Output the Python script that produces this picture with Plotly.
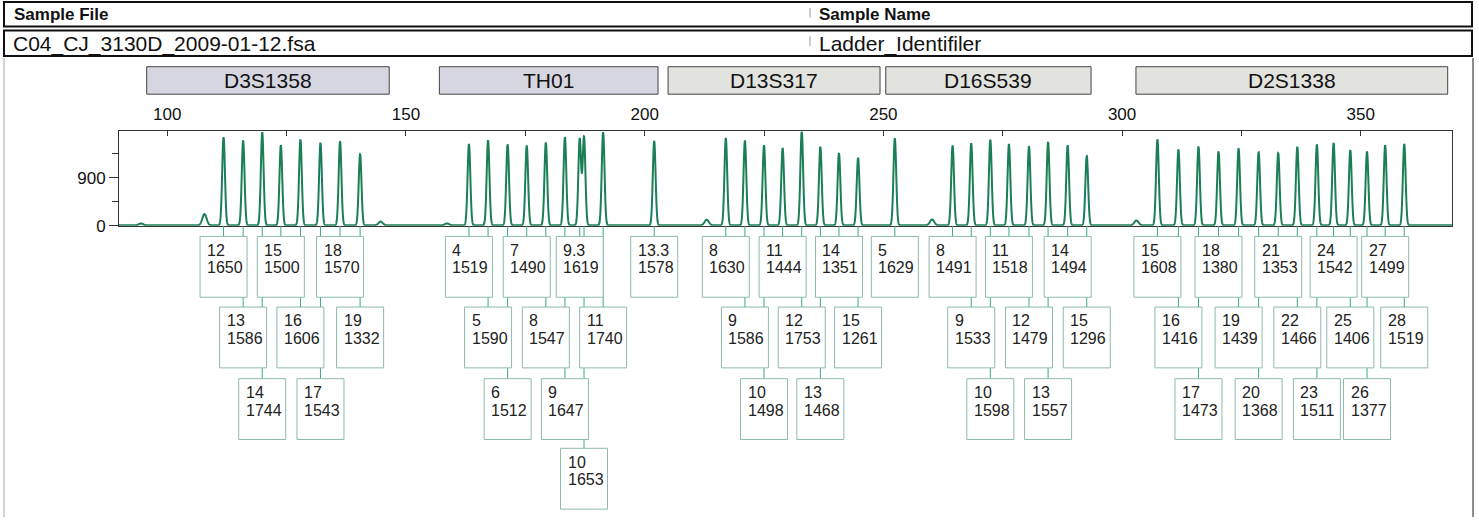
import numpy as np
import plotly.graph_objects as go

# ---------------- data ----------------
loci = ["D3S1358", "TH01", "D13S317", "D16S539", "D2S1338"]
locus_start_bp = [95.7, 157.0, 204.9, 250.5, 302.9]
locus_end_bp = [146.5, 202.8, 249.3, 293.5, 368.2]
locus_fill = ["#d6d6e1", "#d6d6e1", "#e2e2de", "#e2e2de", "#e2e2de"]

d3_alleles = ["12", "13", "14", "15", "16", "17", "18", "19"]
d3_sizes = [111.8, 115.9, 119.9, 123.8, 127.9, 132.1, 136.2, 140.4]
d3_heights = [1650, 1586, 1744, 1500, 1606, 1543, 1570, 1332]

th01_alleles = ["4", "5", "6", "7", "8", "9", "9.3", "10", "11", "13.3"]
th01_sizes = [163.2, 167.2, 171.3, 175.3, 179.3, 183.3, 186.4, 187.3, 191.3, 202.0]
th01_heights = [1519, 1590, 1512, 1490, 1547, 1647, 1619, 1653, 1740, 1578]

d13_alleles = ["8", "9", "10", "11", "12", "13", "14", "15"]
d13_sizes = [217.0, 221.0, 225.0, 228.9, 232.9, 236.8, 240.7, 244.7]
d13_heights = [1630, 1586, 1498, 1444, 1753, 1468, 1351, 1261]

d16_alleles = ["5", "8", "9", "10", "11", "12", "13", "14", "15"]
d16_sizes = [252.4, 264.5, 268.4, 272.4, 276.3, 280.5, 284.5, 288.6, 292.6]
d16_heights = [1629, 1491, 1533, 1598, 1518, 1479, 1557, 1494, 1296]

d2_alleles = ["15", "16", "17", "18", "19", "20", "21", "22", "23", "24", "25", "26", "27", "28"]
d2_sizes = [307.4, 311.8, 316.0, 320.2, 324.4, 328.6, 332.7, 336.7, 340.8, 344.3,
            347.8, 351.3, 355.1, 359.1]
d2_heights = [1608, 1416, 1473, 1380, 1439, 1368, 1353, 1466, 1511, 1542,
              1406, 1377, 1499, 1519]

artifact_sizes = [94.5, 107.8, 144.7, 158.6, 213.0, 260.2, 303.0]
artifact_heights = [35, 210, 70, 35, 105, 110, 90]

sample_file = "C04_CJ_3130D_2009-01-12.fsa"
sample_name = "Ladder_Identifiler"

# ---------------- layout constants ----------------
W, H = 1479, 527
XMIN, XMAX = 89.9, 369.1
PLOT_L, PLOT_R, PLOT_T, PLOT_B = 119, 1452, 134, 230
YMAX = 1763
FONT = "Liberation Sans, Arial, sans-serif"
BOX_W = 47
BOX_H = 62
TIER_TOPS = [11, 83, 156, 227]  # px below plot bottom
CONN_COLOR = "#3aa88c"
BOX_COLOR = "#8fb9ad"

ppb = (PLOT_R - PLOT_L) / (XMAX - XMIN)


def px(x):
    return x / W


def py(y):
    return 1 - y / H


all_alleles = d3_alleles + th01_alleles + d13_alleles + d16_alleles + d2_alleles
all_sizes = d3_sizes + th01_sizes + d13_sizes + d16_sizes + d2_sizes
all_heights = d3_heights + th01_heights + d13_heights + d16_heights + d2_heights

# ---------------- signal ----------------
xs = np.arange(XMIN, XMAX, 0.03)
ys = np.full_like(xs, 6.0)
for s, h in zip(all_sizes, all_heights):
    ys += h * np.exp(-0.5 * ((xs - s) / 0.29) ** 2)
for s, h in zip(artifact_sizes, artifact_heights):
    ys += h * np.exp(-0.5 * ((xs - s) / 0.45) ** 2)

fig = go.Figure()
fig.add_trace(go.Scatter(x=xs, y=ys, mode="lines",
                         line=dict(color="#1b7f55", width=2, simplify=False),
                         hoverinfo="skip", showlegend=False))
fig.add_trace(go.Scatter(x=[XMIN], y=[0], yaxis="y2", mode="markers",
                         marker=dict(opacity=0), hoverinfo="skip", showlegend=False))

shapes = []
annotations = []

# ---------------- header ----------------
for (y0, y1) in [(2, 27), (31, 57)]:
    shapes.append(dict(type="rect", xref="paper", yref="paper",
                       x0=px(4), x1=px(1472), y0=py(y1), y1=py(y0),
                       line=dict(color="#111", width=2), fillcolor="white", layer="below"))
    shapes.append(dict(type="line", xref="paper", yref="paper",
                       x0=px(810), x1=px(810), y0=py(y0 + 6), y1=py(y0 + 16),
                       line=dict(color="#999", width=1)))

annotations += [
    dict(text="<b>Sample File</b>", x=px(12), y=py(15), xref="paper", yref="paper",
         xanchor="left", yanchor="middle", showarrow=False,
         font=dict(family=FONT, size=17, color="#111")),
    dict(text="<b>Sample Name</b>", x=px(817), y=py(15), xref="paper", yref="paper",
         xanchor="left", yanchor="middle", showarrow=False,
         font=dict(family=FONT, size=17, color="#111")),
    dict(text=sample_file, x=px(11), y=py(45), xref="paper", yref="paper",
         xanchor="left", yanchor="middle", showarrow=False,
         font=dict(family=FONT, size=21, color="#111")),
    dict(text=sample_name, x=px(817), y=py(45), xref="paper", yref="paper",
         xanchor="left", yanchor="middle", showarrow=False,
         font=dict(family=FONT, size=21, color="#111")),
]

# main panel borders
shapes.append(dict(type="line", xref="paper", yref="paper", x0=px(4), x1=px(4),
                   y0=py(527), y1=py(59), line=dict(color="#aaa", width=1)))
shapes.append(dict(type="line", xref="paper", yref="paper", x0=px(1473), x1=px(1473),
                   y0=py(527), y1=py(59), line=dict(color="#666", width=1.5)))

# ---------------- locus bars ----------------
for name, a, b, fc in zip(loci, locus_start_bp, locus_end_bp, locus_fill):
    shapes.append(dict(type="rect", xref="x", yref="paper", x0=a, x1=b,
                       y0=py(96), y1=py(68), fillcolor=fc,
                       line=dict(color="#444", width=1)))
    annotations.append(dict(text=name, x=(a + b) / 2, y=py(82), xref="x", yref="paper",
                            xanchor="center", yanchor="middle", showarrow=False,
                            font=dict(family=FONT, size=21, color="#111")))

# ---------------- allele label boxes ----------------
tier_right = [-1e9] * len(TIER_TOPS)
placed = []
for al, s, h in zip(all_alleles, all_sizes, all_heights):
    cx = PLOT_L + (s - XMIN) * ppb
    left = cx - BOX_W / 2
    tier = len(TIER_TOPS) - 1
    for t in range(len(TIER_TOPS)):
        if left >= tier_right[t] + 1:
            tier = t
            break
    tier_right[tier] = cx + BOX_W / 2
    placed.append((al, s, h, tier))

# connectors first
for al, s, h, tier in placed:
    top = TIER_TOPS[tier]
    shapes.append(dict(type="line", xref="x", yref="y2", x0=s, x1=s, y0=0, y1=top,
                       line=dict(color=CONN_COLOR, width=1)))
for al, s, h, tier in placed:
    top = TIER_TOPS[tier]
    shapes.append(dict(type="rect", xref="x", yref="y2", xsizemode="pixel", xanchor=s,
                       x0=-BOX_W / 2, x1=BOX_W / 2, y0=top, y1=top + BOX_H,
                       fillcolor="white", line=dict(color=BOX_COLOR, width=1)))
    for txt, dy in [(al, 14), (str(h), 32)]:
        annotations.append(dict(text=txt, x=s, xref="x", xshift=-BOX_W / 2 + 5,
                                y=top + dy, yref="y2", xanchor="left", yanchor="middle",
                                showarrow=False,
                                font=dict(family=FONT, size=16, color="#222")))

fig.update_layout(
    width=W, height=H, autosize=False,
    margin=dict(l=0, r=0, t=0, b=0, pad=0),
    paper_bgcolor="white", plot_bgcolor="white",
    showlegend=False,
    shapes=shapes, annotations=annotations,
    xaxis=dict(domain=[px(PLOT_L), px(PLOT_R)], range=[XMIN, XMAX], side="top",
               anchor="y", tick0=0, dtick=50, ticks="inside", ticklen=5,
               tickcolor="#333", ticklabelstandoff=4,
               minor=dict(dtick=25, tick0=0, ticks="inside", ticklen=5, tickcolor="#333"),
               showline=True, linecolor="#333", linewidth=1, mirror=True,
               showgrid=False, zeroline=False,
               tickfont=dict(family=FONT, size=17, color="#111")),
    yaxis=dict(domain=[py(PLOT_B), py(PLOT_T)], range=[0, YMAX], anchor="x",
               tick0=0, dtick=900, ticks="outside", ticklen=9, tickcolor="#333",
               minor=dict(dtick=450, tick0=0, ticks="outside", ticklen=6, tickcolor="#333"),
               showline=True, linecolor="#333", linewidth=1, mirror=True,
               showgrid=False, zeroline=False,
               tickfont=dict(family=FONT, size=17, color="#111")),
    yaxis2=dict(domain=[0, py(PLOT_B)], range=[297, 0], anchor="x", visible=False,
                showgrid=False, zeroline=False),
)

fig.write_html(
    "out.html",
    config={"displayModeBar": False},
    post_script="document.body.style.margin='0';document.body.style.overflow='hidden';",
)
